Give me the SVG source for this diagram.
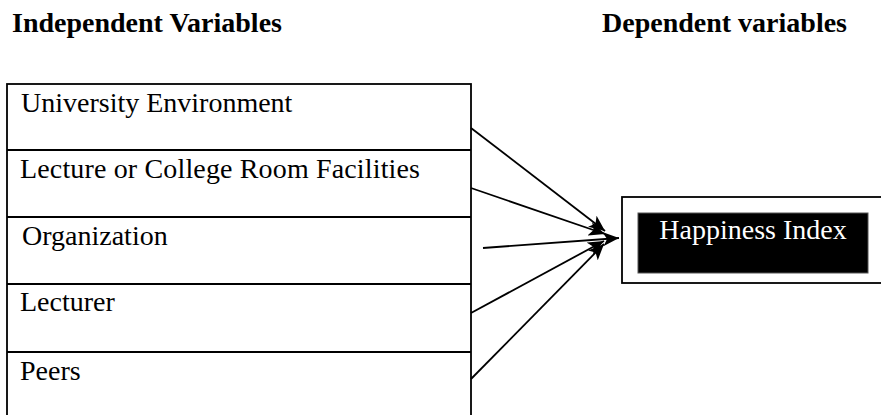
<svg xmlns="http://www.w3.org/2000/svg" width="881" height="415" viewBox="0 0 881 415">
<style>
.h{font-family:"Liberation Serif","Times New Roman",serif;font-weight:bold;font-size:28px;fill:#000}
.t{font-family:"Liberation Serif","Times New Roman",serif;font-size:28px;fill:#000}
.box{fill:#fff;stroke:#000;stroke-width:1.8}
.div{stroke:#000;stroke-width:1.8}
.con{stroke:#000;stroke-width:1.8;fill:none;marker-end:url(#ah)}
</style>
<defs>
<marker id="ah" markerUnits="userSpaceOnUse" markerWidth="18" markerHeight="14" refX="16" refY="7" orient="auto">
<path d="M0,0 L16,7 L0,14 L4,7 Z" fill="#000"/>
</marker>
</defs>
<rect width="881" height="415" fill="#fff"/>
<text class="h" x="12" y="32">Independent Variables</text>
<text class="h" x="602" y="32">Dependent variables</text>
<g id="independent">
<rect class="box" x="7" y="84" width="464" height="336"/>
<line class="div" x1="7" y1="150" x2="471" y2="150"/>
<line class="div" x1="7" y1="217" x2="471" y2="217"/>
<line class="div" x1="7" y1="284" x2="471" y2="284"/>
<line class="div" x1="7" y1="352" x2="471" y2="352"/>
<g id="n1"><text class="t" x="21" y="112">University Environment</text></g>
<g id="n2"><text class="t" x="20" y="178" textLength="400">Lecture or College Room Facilities</text></g>
<g id="n3"><text class="t" x="22" y="245">Organization</text></g>
<g id="n4"><text class="t" x="20" y="311">Lecturer</text></g>
<g id="n5"><text class="t" x="20" y="380">Peers</text></g>
</g>
<g id="dependent">
<rect class="box" x="622" y="197" width="270" height="86"/>
<rect x="638" y="213" width="230" height="60" fill="#000" stroke="#555" stroke-width="1"/>
<text class="t" x="753" y="239" text-anchor="middle" style="fill:#fff">Happiness Index</text>
</g>
<g id="connectors">
<line class="con" x1="471" y1="128" x2="605" y2="231"/>
<line class="con" x1="471" y1="188" x2="605" y2="234"/>
<line class="con" x1="483" y1="248" x2="619" y2="238"/>
<line class="con" x1="471" y1="313" x2="604" y2="241"/>
<line class="con" x1="471" y1="379" x2="604" y2="244"/>
</g>
</svg>
